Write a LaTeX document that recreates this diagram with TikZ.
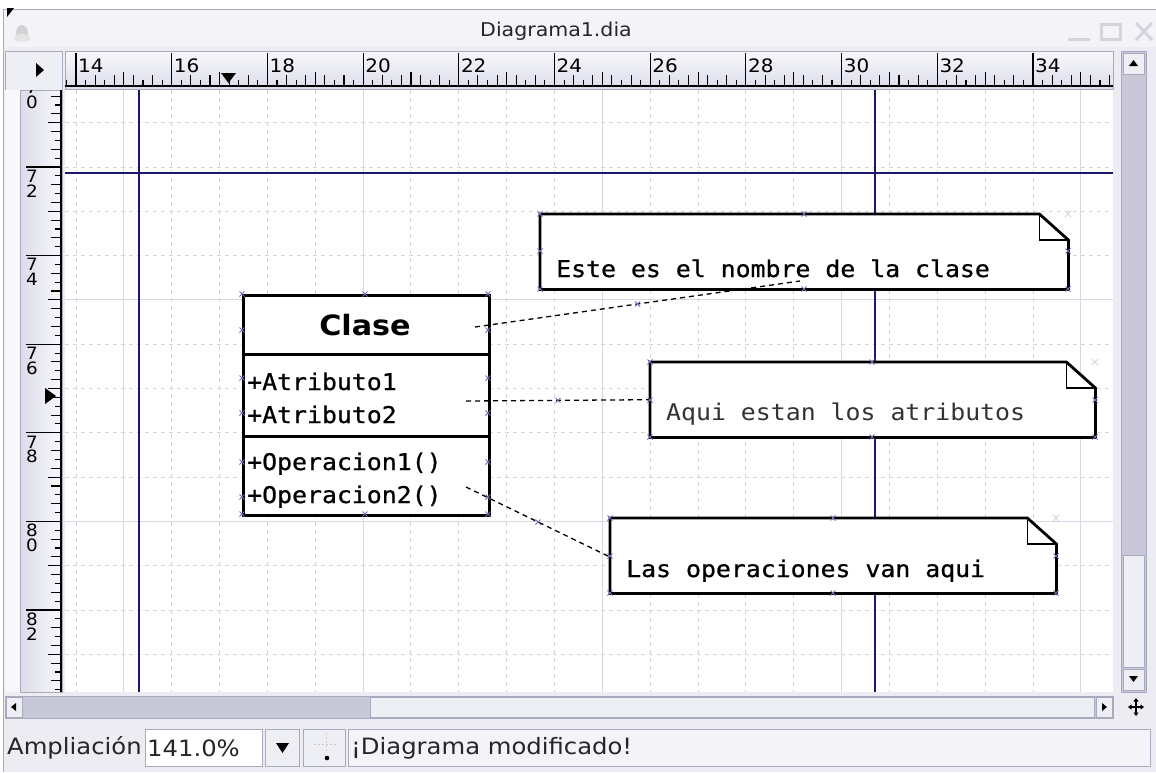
\documentclass[tikz,border=0pt]{standalone}
\usepackage{fontspec}
\usetikzlibrary{arrows.meta,calc}
\newfontfamily\uisans[FakeStretch=1.08]{DejaVu Sans}
\newfontfamily\diamono[FakeStretch=1.08]{DejaVu Sans Mono}
\newfontfamily\diamonoheavy[FakeStretch=1.08,FakeBold=0.8]{DejaVu Sans Mono}
\definecolor{winbg}{RGB}{236,236,242}
\definecolor{titlebg}{RGB}{243,243,248}
\definecolor{framegray}{RGB}{170,170,190}
\definecolor{rulerlight}{RGB}{248,248,252}
\definecolor{rulerdark}{RGB}{220,220,234}
\definecolor{trough}{RGB}{200,200,216}
\definecolor{btnbg}{RGB}{238,238,245}
\definecolor{gridmajor}{RGB}{214,214,228}
\definecolor{gridminor}{RGB}{212,212,212}
\definecolor{guide}{RGB}{25,25,110}
\definecolor{cpcol}{RGB}{110,110,175}
\definecolor{faded}{RGB}{212,212,222}
\newcommand\drawDiaNote[1]{%
  \draw[noteline, fill=white] (#1.north west) -- ([xshift=-29pt]#1.north east)
     -- ([yshift=-26pt]#1.north east) -- (#1.south east) -- (#1.south west) -- cycle;
  \draw[foldline] ([xshift=-29pt]#1.north east) -- ([xshift=-29pt,yshift=-26pt]#1.north east)
     -- ([yshift=-26pt]#1.north east);}
\begin{document}
\begin{tikzpicture}[x=1pt,y=-1pt,
  tick/.style={line width=1.1pt, black},
  rulerlbl/.style={font=\uisans\fontsize{18.5}{20}\selectfont, inner sep=0pt, text=black},
  vrulerlbl/.style={font=\uisans\fontsize{17}{18}\selectfont, inner sep=0pt, text=black},
  uitext/.style={font=\uisans\fontsize{22.5}{24}\selectfont, inner sep=0pt, text=black!85},
  diatext/.style={font=\diamonoheavy\fontsize{23}{25}\selectfont, inner sep=0pt, text=black},
  diatextlight/.style={font=\diamono\fontsize{23}{25}\selectfont, inner sep=0pt, text=black!80},
  classpart/.style={draw=black, line width=3pt, fill=white, inner sep=0pt, anchor=north west, minimum width=246pt},
  notebox/.style={inner sep=0pt, anchor=north west},
  noteline/.style={draw=black, line width=2.8pt, line join=miter},
  foldline/.style={draw=black, line width=1.5pt},
  conn/.style={black, line width=1.3pt, dash pattern=on 5pt off 4pt},
  btn/.style={fill=btnbg, draw=framegray, line width=0.8pt},
  cp/.pic={\draw[cpcol, line width=0.8pt] (-2.5,-2.5) -- (2.5,2.5) (-2.5,2.5) -- (2.5,-2.5);},
  cpl/.pic={\draw[faded, line width=0.9pt] (-3,-3) -- (3,3) (-3,3) -- (3,-3);}
]
\useasboundingbox (0,0) rectangle (1156,772);
% window
\fill[white] (0,0) rectangle (1156,772);
\fill[winbg] (3,9) rectangle (1156,772);
\fill[titlebg] (3,9) rectangle (1156,47);
\draw[framegray] (3,9.5) -- (1156,9.5);
\draw[framegray] (3.5,9) -- (3.5,772);
\fill[black] (7,8) -- (14,8) -- (7,17) -- cycle;
\fill[gray!35] (22,33) ellipse (6 and 8);
\fill[gray!20] (22,38) ellipse (8 and 4);
\node[font=\uisans\fontsize{19}{21}\selectfont, inner sep=0pt, text=black!85] (title) at (556,31) {Diagrama1.dia};
\draw[faded, line width=3pt] (1068,39) -- (1090,39);
\draw[faded, line width=3pt] (1101,24) rectangle (1120,39);
\draw[faded, line width=3pt] (1136,23) -- (1152,40) (1136,40) -- (1152,23);
% top-left ruler button
\draw[btn] (5,51) rectangle (62,90);
\fill[black] (36,63) -- (44,70) -- (36,77) -- cycle;
% horizontal ruler
\shade[top color=rulerlight, bottom color=rulerdark] (65,51) rectangle (1113,89);
\draw[framegray] (65,51) rectangle (1113,89);
\draw[tick] (65,86) -- (1113,86);
\begin{scope}
\clip (65,51) rectangle (1113,89);
\foreach \i in {-1,...,108}{
  \pgfmathsetmacro\xx{76+9.57*\i}
  \pgfmathtruncatemacro\mten{mod(\i+100,10)}
  \pgfmathtruncatemacro\mfive{mod(\i+100,5)}
  \pgfmathtruncatemacro\mtwo{mod(\i+100,2)}
  \ifnum\mten=0 \def\tl{33}\else\ifnum\mfive=0 \def\tl{14}\else\ifnum\mtwo=0 \def\tl{11}\else\def\tl{6}\fi\fi\fi
  \draw[tick] (\xx,86) -- (\xx,86-\tl);
}
\foreach \u in {14,16,...,34}{
  \pgfmathsetmacro\xx{76+47.85*(\u-14)}
  \node[rulerlbl, anchor=base west] (hl\u) at (\xx+2,72) {\u};
}
\end{scope}
\fill[black] (221,73) -- (236,73) -- (228.5,83) -- cycle;
% vertical ruler
\fill[rulerlight] (5,90) rectangle (20,692);
\shade[left color=rulerdark, right color=rulerlight] (20,90) rectangle (62,692);
\draw[framegray] (20,90) rectangle (62,692);
\begin{scope}
\clip (20,90) rectangle (62,692);
\draw[tick] (61,90) -- (61,692);
\foreach \j in {-10,...,59}{
  \pgfmathsetmacro\yy{167+8.86*\j}
  \pgfmathtruncatemacro\mten{mod(\j+100,10)}
  \pgfmathtruncatemacro\mfive{mod(\j+100,5)}
  \pgfmathtruncatemacro\mtwo{mod(\j+100,2)}
  \ifnum\mten=0 \def\tl{35}\else\ifnum\mfive=0 \def\tl{13}\else\ifnum\mtwo=0 \def\tl{10}\else\def\tl{6}\fi\fi\fi
  \draw[tick] (61,\yy) -- (61-\tl,\yy);
}
\foreach \u in {70,72,...,82}{
  \pgfmathsetmacro\yy{167+44.3*(\u-72)}
  \pgfmathtruncatemacro\da{\u/10}
  \pgfmathtruncatemacro\db{mod(\u,10)}
  \node[vrulerlbl] (vla\u) at (32,\yy+9) {\da};
  \node[vrulerlbl] (vlb\u) at (32,\yy+24) {\db};
}
\end{scope}
\fill[black] (45,388) -- (56,396) -- (45,404) -- cycle;
% canvas
\begin{scope}
\clip (65,90) rectangle (1113,692);
\fill[white] (65,90) rectangle (1113,692);
\foreach \u in {14,...,35}{
  \pgfmathsetmacro\xx{76+47.85*(\u-14)}
  \pgfmathtruncatemacro\mf{mod(\u,5)}
  \ifnum\mf=0
    \draw[gridmajor, line width=1pt] (\xx,90) -- (\xx,692);
  \else
    \draw[gridminor, line width=1pt, dash pattern=on 4pt off 4pt] (\xx,90) -- (\xx,692);
  \fi
}
\foreach \u in {70,...,84}{
  \pgfmathsetmacro\yy{167+44.3*(\u-72)}
  \pgfmathtruncatemacro\mf{mod(\u,5)}
  \ifnum\mf=0
    \draw[gridmajor, line width=1pt] (65,\yy) -- (1113,\yy);
  \else
    \draw[gridminor, line width=1pt, dash pattern=on 4pt off 4pt] (65,\yy) -- (1113,\yy);
  \fi
}
\draw[guide, line width=1.5pt] (139,90) -- (139,692);
\draw[guide, line width=1.5pt] (875,90) -- (875,692);
\draw[guide, line width=1.5pt] (65,173) -- (1113,173);
% class
\node[classpart, minimum height=59pt] (clsname) at (242,294) {};
\node[classpart, minimum height=82pt] (clsattr) at (242,353) {};
\node[classpart, minimum height=79pt] (clsops) at (242,435) {};
\node[font=\uisans\bfseries\fontsize{28}{30}\selectfont, inner sep=0pt, anchor=base] (clsnametxt) at (365,335) {Clase};
\node[diatext, anchor=base west] (attr1) at (247,390) {+Atributo1};
\node[diatext, anchor=base west] (attr2) at (247,423) {+Atributo2};
\node[diatext, anchor=base west] (op1) at (247,470) {+Operacion1()};
\node[diatext, anchor=base west] (op2) at (247,503) {+Operacion2()};
% notes
\node[notebox, minimum width=528pt, minimum height=75pt] (note1) at (540,214) {};
\drawDiaNote{note1}
\node[diatext, anchor=base west] (note1txt) at (556,277) {Este es el nombre de la clase};
\node[notebox, minimum width=445pt, minimum height=75pt] (note2) at (650,362) {};
\drawDiaNote{note2}
\node[diatextlight, anchor=base west] (note2txt) at (666,420) {Aqui estan los atributos};
\node[notebox, minimum width=446pt, minimum height=75pt] (note3) at (610,518) {};
\drawDiaNote{note3}
\node[diatext, anchor=base west] (note3txt) at (626,577) {Las operaciones van aqui};
% connectors
\coordinate (k1a) at (475,327);
\coordinate (k1b) at (800,281);
\coordinate (k2a) at (466,401);
\coordinate (k2b) at (note2.west);
\coordinate (k3a) at (466,487);
\coordinate (k3b) at (610,557);
\draw[conn] (k1a) -- (k1b);
\draw[conn] (k2a) -- (k2b);
\draw[conn] (k3a) -- (k3b);
\pic at ($(k1a)!0.5!(k1b)$) {cp};
\pic at ($(k2a)!0.5!(k2b)$) {cp};
\pic at ($(k3a)!0.5!(k3b)$) {cp};
% connection points
\foreach \p in {(242,294),(365,294),(488,294),(242,514),(365,514),(488,514),
  (242,330),(242,378),(242,413),(242,462),(242,497),
  (488,330),(488,378),(488,413),(488,462),(488,497),
  (540,214),(804,214),(540,289),(804,289),(1068,289),(540,251),(1068,251),
  (650,362),(872,362),(650,437),(872,437),(1095,437),(650,400),(1095,400),
  (610,518),(833,518),(610,593),(833,593),(1056,593),(610,556),(1056,556)}
  {\pic at \p {cp};}
\pic at (1068,214) {cpl};
\pic at (1095,362) {cpl};
\pic at (1056,518) {cpl};
\end{scope}
% vertical scrollbar
\fill[trough] (1121,51) rectangle (1146,692);
\draw[framegray] (1121,51) rectangle (1146,692);
\draw[btn] (1123,53) rectangle (1144,74);
\fill[black] (1129,66) -- (1138,66) -- (1133.5,60) -- cycle;
\draw[btn] (1123,555) rectangle (1144,667);
\draw[btn] (1123,669) rectangle (1144,690);
\fill[black] (1129,676) -- (1138,676) -- (1133.5,682) -- cycle;
% horizontal scrollbar
\fill[trough] (5,696) rectangle (1113,718);
\draw[framegray] (5,696) rectangle (1113,718);
\draw[btn] (6,697) rectangle (22,717);
\fill[black] (16,703) -- (16,711) -- (11,707) -- cycle;
\draw[btn] (370,697) rectangle (1094,717);
\draw[btn] (1096,697) rectangle (1112,717);
\fill[black] (1102,703) -- (1102,711) -- (1107,707) -- cycle;
\coordinate (mv) at (1136,707);
\draw[line width=1.3pt, -{Triangle[length=3.5pt,width=5pt]}] (mv) -- ++(0,-9);
\draw[line width=1.3pt, -{Triangle[length=3.5pt,width=5pt]}] (mv) -- ++(0,9);
\draw[line width=1.3pt, -{Triangle[length=3.5pt,width=5pt]}] (mv) -- ++(-8,0);
\draw[line width=1.3pt, -{Triangle[length=3.5pt,width=5pt]}] (mv) -- ++(8,0);
% status bar
\node[uitext, anchor=west] (zoomlbl) at (7,748) {Ampliación};
\draw[fill=white, draw=framegray] (145,729) rectangle (262,766);
\node[uitext, anchor=west] (zoomval) at (147,748) {141.0\%};
\draw[btn] (265,729) rectangle (299,766);
\fill[black] (276,743) -- (289,743) -- (282.5,753) -- cycle;
\draw[btn] (303,729) rectangle (345,766);
\draw[gray!40, line width=1pt, dash pattern=on 2pt off 2pt] (326,733) -- (326,752);
\draw[gray!40, line width=1pt, dash pattern=on 2pt off 2pt] (314,744) -- (338,744);
\fill[black] (327,758) circle (2.3);
\draw[fill=titlebg, draw=framegray] (348,729) rectangle (1150,766);
\node[uitext, anchor=west] (status) at (351,748) {¡Diagrama modificado!};
\end{tikzpicture}
\end{document}
